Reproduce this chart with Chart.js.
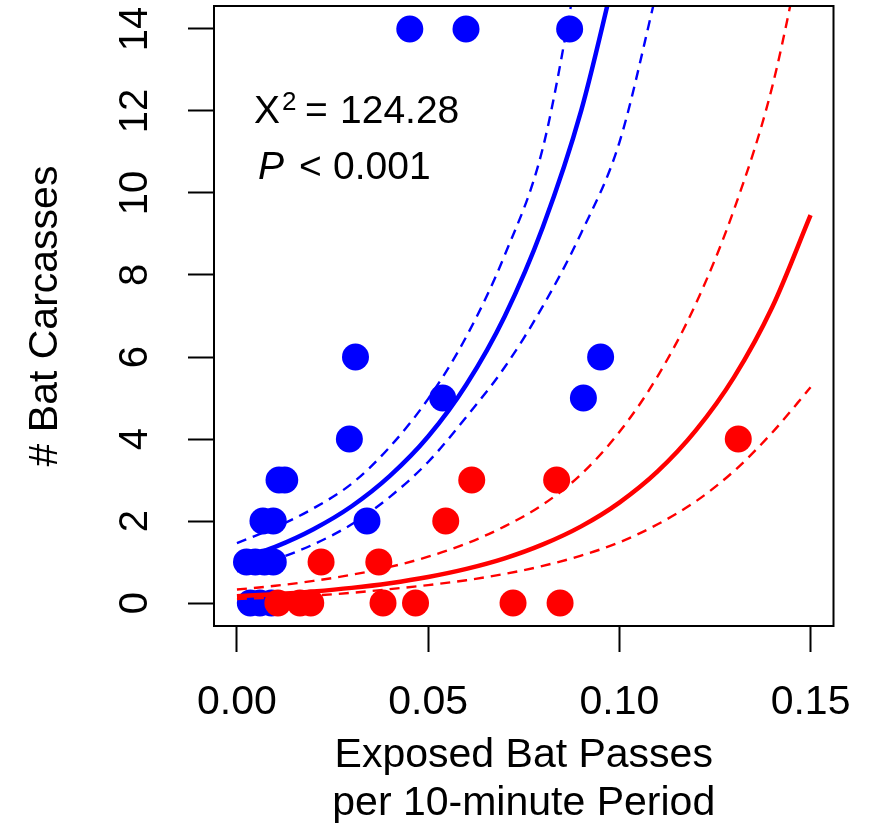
<!DOCTYPE html>
<html>
<head>
<meta charset="utf-8">
<script src="https://cdn.jsdelivr.net/npm/chart.js@4/dist/chart.umd.min.js"></script>
<style>
html,body{margin:0;padding:0;background:#fff;}
#wrap{width:879px;height:824px;}
</style>
</head>
<body>
<div id="wrap"><canvas id="c" width="879" height="824"></canvas></div>
<script>
// ---- data ----
const blueX = [0.0452, 0.0599, 0.0870, 0.0951, 0.0906, 0.0538, 0.0310, 0.0294, 0.0340,
               0.0110, 0.0125, 0.0068, 0.0095, 0.0025, 0.0048, 0.0072, 0.0095,
               0.0035, 0.0060, 0.0090];
const blueY = [14, 14, 14, 6, 5, 5, 6, 4, 2,
               3, 3, 2, 2, 1, 1, 1, 1,
               0, 0, 0];
const redX = [0.1311, 0.0836, 0.0614, 0.0546, 0.0371, 0.0220,
              0.0467, 0.0722, 0.0845, 0.0382, 0.0107, 0.0165, 0.0193];
const redY = [4, 3, 3, 2, 1, 1,
              0, 0, 0, 0, 0, 0, 0];

// fitted curves (at these x positions)
const blueCurveX  = [0, 0.01, 0.02, 0.03, 0.04, 0.05, 0.06, 0.07, 0.08, 0.09, 0.10, 0.11];
const blueFit     = [1.045, 1.37, 1.80, 2.36, 3.10, 4.06, 5.33, 6.99, 9.17, 12.0, 15.8];
const blueUpper   = [1.46, 1.84, 2.31, 2.91, 3.81, 4.98, 6.50, 8.48, 11.1, 15.9];
const blueLower   = [0.77, 1.06, 1.43, 1.92, 2.59, 3.44, 4.54, 5.75, 7.24, 9.02, 11.23, 15.0];

const redCurveX   = [0, 0.01, 0.02, 0.03, 0.04, 0.05, 0.06, 0.07, 0.08, 0.09, 0.10, 0.11, 0.12, 0.13, 0.14, 0.15];
const redFit      = [0.165, 0.216, 0.283, 0.370, 0.485, 0.636, 0.833, 1.09, 1.43, 1.87, 2.45, 3.21, 4.21, 5.51, 7.22, 9.46];
const redUpper    = [0.33, 0.42, 0.54, 0.69, 0.88, 1.13, 1.45, 1.87, 2.40, 3.14, 4.17, 5.53, 7.3, 9.6, 12.6, 17.0];
const redLower    = [0.10, 0.135, 0.182, 0.25, 0.34, 0.437, 0.557, 0.71, 0.906, 1.156, 1.48, 1.92, 2.48, 3.22, 4.16, 5.26];

const xTickValues = [0, 0.05, 0.10, 0.15];
const xTickLabels = ['0.00', '0.05', '0.10', '0.15'];
const yTickValues = [0, 2, 4, 6, 8, 10, 12, 14];
const yTickLabels = ['0', '2', '4', '6', '8', '10', '12', '14'];

const xTitleLines = ['Exposed Bat Passes', 'per 10-minute Period'];
const yTitle = '# Bat Carcasses';
const statLabel = '124.28';
const pLabel = '0.001';

// ---- helpers ----
const pts = (xs, ys) => ys.map((y, i) => ({x: xs[i], y: y}));
const FONT = '"Liberation Sans", Arial, sans-serif';
const BLUE = '#0000FF', RED = '#FF0000';

const lineDs = (xs, ys, color, dashed, order) => ({
  data: pts(xs, ys),
  showLine: true,
  borderColor: color,
  backgroundColor: color,
  borderWidth: dashed ? 2.4 : 4.5,
  borderDash: dashed ? [10, 7] : [],
  pointRadius: 0,
  pointHoverRadius: 0,
  cubicInterpolationMode: 'monotone',
  fill: false,
  order: order
});

const pointDs = (xs, ys, color, order) => ({
  data: pts(xs, ys),
  showLine: false,
  pointRadius: 13.5,
  pointHoverRadius: 13.5,
  pointBorderWidth: 0,
  borderWidth: 0,
  pointBackgroundColor: color,
  backgroundColor: color,
  borderColor: color,
  order: order
});

const decorations = {
  id: 'decorations',
  afterDatasetsDraw(chart) {
    const {ctx, chartArea: a} = chart;
    ctx.save();
    ctx.strokeStyle = '#000';
    ctx.lineWidth = 2;
    ctx.strokeRect(a.left, a.top, a.right - a.left, a.bottom - a.top);
    ctx.restore();
  },
  afterDraw(chart) {
    const {ctx, chartArea: a} = chart;
    ctx.save();
    ctx.fillStyle = '#000';
    // x title
    ctx.font = '41px ' + FONT;
    ctx.textAlign = 'center';
    ctx.textBaseline = 'alphabetic';
    const cx = (a.left + a.right) / 2;
    ctx.fillText(xTitleLines[0], cx, 767);
    ctx.fillText(xTitleLines[1], cx, 815);
    // y title
    ctx.save();
    ctx.translate(57, (a.top + a.bottom) / 2);
    ctx.rotate(-Math.PI / 2);
    ctx.fillText(yTitle, 0, 0);
    ctx.restore();
    // statistics annotation
    ctx.textAlign = 'left';
    ctx.font = '39px ' + FONT;
    ctx.fillText('X', 254, 123);
    ctx.font = '26px ' + FONT;
    ctx.fillText('2', 282, 110);
    ctx.font = '39px ' + FONT;
    ctx.fillText('=', 305, 123);
    ctx.fillText(statLabel, 340, 123);
    ctx.font = 'italic 39px ' + FONT;
    ctx.fillText('P', 258, 179);
    ctx.font = '39px ' + FONT;
    ctx.fillText('<', 299, 179);
    ctx.fillText(pLabel, 333, 179);
    ctx.restore();
  }
};

new Chart(document.getElementById('c'), {
  type: 'scatter',
  data: {
    datasets: [
      lineDs(redCurveX, redFit, RED, false, 0),
      lineDs(redCurveX, redUpper, RED, true, 0),
      lineDs(redCurveX, redLower, RED, true, 0),
      lineDs(blueCurveX, blueFit, BLUE, false, 1),
      lineDs(blueCurveX, blueUpper, BLUE, true, 1),
      lineDs(blueCurveX, blueLower, BLUE, true, 1),
      pointDs(redX, redY, RED, 2),
      pointDs(blueX, blueY, BLUE, 3)
    ]
  },
  options: {
    responsive: false,
    animation: false,
    devicePixelRatio: 1,
    layout: {autoPadding: false, padding: {top: 6, right: 45.5, left: 0, bottom: 0}},
    plugins: {legend: {display: false}, tooltip: {enabled: false}},
    events: [],
    scales: {
      x: {
        type: 'linear',
        min: -0.006,
        max: 0.156,
        afterFit: s => { s.height = 198; s.paddingLeft = 0; s.paddingRight = 0; },
        afterBuildTicks: s => { s.ticks = xTickValues.map(v => ({value: v})); },
        ticks: {
          callback: (v) => xTickLabels[xTickValues.findIndex(t => Math.abs(t - v) < 1e-9)],
          font: {family: FONT, size: 41},
          color: '#000',
          padding: 26,
          maxRotation: 0,
          autoSkip: false
        },
        grid: {display: true, drawOnChartArea: false, drawTicks: true, tickLength: 26, tickWidth: 2, tickColor: '#000'},
        border: {display: false}
      },
      y: {
        type: 'linear',
        min: -0.56,
        max: 14.56,
        afterFit: s => { s.width = 214; s.paddingTop = 0; s.paddingBottom = 0; },
        afterBuildTicks: s => { s.ticks = yTickValues.map(v => ({value: v})); },
        ticks: {
          callback: (v) => yTickLabels[yTickValues.indexOf(v)],
          font: {family: FONT, size: 40},
          color: '#000',
          padding: 30,
          minRotation: 90,
          maxRotation: 90,
          crossAlign: 'center',
          autoSkip: false
        },
        grid: {display: true, drawOnChartArea: false, drawTicks: true, tickLength: 26, tickWidth: 2, tickColor: '#000'},
        border: {display: false}
      }
    }
  },
  plugins: [decorations]
});
</script>
</body>
</html>
